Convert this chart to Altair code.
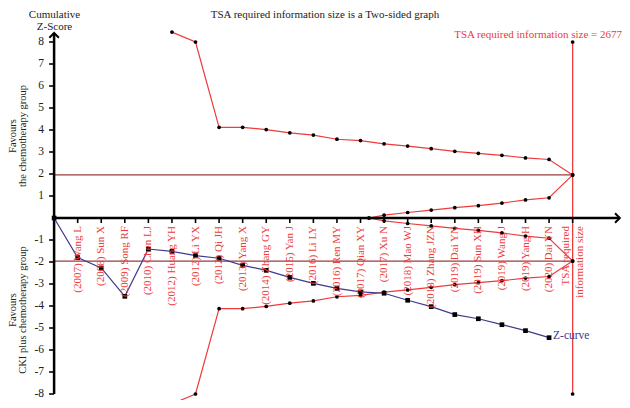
import altair as alt
import pandas as pd

# ---------------- data ----------------
studies = ["(2007) Wang L", "(2008) Sun X", "(2009) Song RF", "(2010) Chen LJ",
           "(2012) Huang YH", "(2012) Li YX", "(2012) Qi JH", "(2013) Yang X",
           "(2014) Zhang GY", "(2015) Yan J", "(2016) Li LY", "(2016) Ren MY",
           "(2017) Qian XY", "(2017) Xu N", "(2018) Mao WJ", "(2018) Zhang JZN",
           "(2019) Dai YN", "(2019) Sun XH", "(2019) Wang J", "(2019) Yang H",
           "(2020) Dai YN"]
study_index = list(range(1, 22))

z_index = list(range(0, 22))
z_values = [0, -1.80, -2.27, -3.56, -1.41, -1.52, -1.71, -1.83, -2.15, -2.38,
            -2.70, -2.97, -3.20, -3.36, -3.42, -3.74, -4.03, -4.39, -4.58,
            -4.85, -5.12, -5.44]

outer_index = list(range(5, 23))
outer_upper = [8.45, 8.0, 4.12, 4.12, 4.02, 3.87, 3.77, 3.58, 3.52, 3.37,
               3.27, 3.15, 3.03, 2.94, 2.85, 2.73, 2.66, 1.96]
outer_lower = [-8.45, -8.0, -4.12, -4.12, -4.02, -3.87, -3.77, -3.58, -3.52,
               -3.37, -3.27, -3.15, -3.03, -2.94, -2.85, -2.73, -2.66, -1.96]

inner_index = [13.36, 14, 15, 16, 17, 18, 19, 20, 21, 22]
inner_upper = [0, 0.13, 0.25, 0.36, 0.47, 0.56, 0.68, 0.82, 0.92, 1.96]
inner_lower = [0, -0.13, -0.25, -0.36, -0.47, -0.56, -0.68, -0.82, -0.92, -1.96]

ris_index = 22
ris_span = [-8, 8]
conventional = [1.96, -1.96]
y_ticks = [-8, -7, -6, -5, -4, -3, -2, -1, 1, 2, 3, 4, 5, 6, 7, 8]
x_axis_end = 24
y_axis_top = 8.41

title_text = "TSA required information size is a Two-sided graph"
ris_text = "TSA required information size = 2677"
ris_axis_lines = ["TSA required", "information size"]
y_title_lines = ["Cumulative", "Z-Score"]
fav_top_lines = ["Favours", "the chemotherapy group"]
fav_bottom_lines = ["Favours", "CKI plus chemotherapy group"]

# ---------------- styling ----------------
RED = "#ee3b3b"
NAVY = "#3b3b8c"
BROWN = "#9a3d3d"
INK = "#222222"
FONT = "Liberation Serif"

W, H = 614, 392
XMIN, XMAX = -1.9559, 24.094
YMAX = 210 / 22.0
YMIN = YMAX - H / 22.0


def X(f="x"):
    return alt.X(f"{f}:Q", scale=alt.Scale(domain=[XMIN, XMAX], nice=False, zero=False), axis=None)


def Y(f="y"):
    return alt.Y(f"{f}:Q", scale=alt.Scale(domain=[YMIN, YMAX], nice=False, zero=False), axis=None)


def one_text(txt, px, py, **kw):
    base = dict(font=FONT, fontSize=11, color=INK, align="center", baseline="middle")
    base.update(kw)
    return alt.Chart(pd.DataFrame({"t": [txt]})).mark_text(**base).encode(
        x=alt.value(px), y=alt.value(py), text="t:N")


# ---------------- tables ----------------
z_df = pd.DataFrame({"x": z_index, "y": z_values})

rows = []
for name, xs, ys in [("outer_upper", outer_index, outer_upper),
                     ("outer_lower", outer_index, outer_lower),
                     ("inner_upper", inner_index, inner_upper),
                     ("inner_lower", inner_index, inner_lower)]:
    for xv, yv in zip(xs, ys):
        rows.append({"series": name, "x": xv, "y": yv})
bound_df = pd.DataFrame(rows)

ris_df = pd.DataFrame({"x": [ris_index], "y": [ris_span[0]], "y2": [ris_span[1]]})
ris_pts = pd.DataFrame({"x": [ris_index, ris_index], "y": ris_span})
conv_df = pd.DataFrame({"x": [0, 0], "x2": [ris_index, ris_index], "y": conventional})

xaxis_df = pd.DataFrame({"x": [0], "x2": [x_axis_end], "y": [0]})
yaxis_df = pd.DataFrame({"x": [0], "y": [y_ticks[0]], "y2": [y_axis_top]})
xtick_df = pd.DataFrame({"x": study_index + [ris_index], "y": [0] * 22})
ytick_df = pd.DataFrame({"x": [0] * len(y_ticks), "y": y_ticks, "label": [str(v) for v in y_ticks]})
label_df = pd.DataFrame({"x": study_index, "y": [0] * 21, "label": studies})

# ---------------- layers ----------------
conv = alt.Chart(conv_df).mark_rule(color=BROWN, strokeWidth=1.3).encode(x=X(), x2="x2:Q", y=Y())

bound_line = alt.Chart(bound_df).mark_line(color=RED, strokeWidth=1.2).encode(
    x=X(), y=Y(), detail="series:N")
bound_pts = alt.Chart(bound_df).mark_circle(color="black", size=14, opacity=1).encode(x=X(), y=Y())

ris_rule = alt.Chart(ris_df).mark_rule(color=RED, strokeWidth=1.3).encode(x=X(), y=Y(), y2="y2:Q")
ris_dots = alt.Chart(ris_pts).mark_circle(color="black", size=14, opacity=1).encode(x=X(), y=Y())

xaxis = alt.Chart(xaxis_df).mark_rule(color="black", strokeWidth=2.5).encode(x=X(), x2="x2:Q", y=Y())
yaxis = alt.Chart(yaxis_df).mark_rule(color="black", strokeWidth=2.5).encode(x=X(), y=Y(), y2="y2:Q")
xarrow = alt.Chart(pd.DataFrame({"x": [x_axis_end], "y": [0]})).mark_point(
    shape="M-1,-1L0,0L-1,1", filled=False, size=90, strokeWidth=2, color="black", opacity=1
).encode(x=X(), y=Y())
yarrow = alt.Chart(pd.DataFrame({"x": [0], "y": [y_axis_top]})).mark_point(
    shape="M-1,1L0,0L1,1", filled=False, size=90, strokeWidth=2, color="black", opacity=1
).encode(x=X(), y=Y())

xticks = alt.Chart(xtick_df).mark_tick(orient="vertical", size=5, thickness=1.6, color="black",
                                       yOffset=2.5, opacity=1).encode(x=X(), y=Y())
yticks = alt.Chart(ytick_df).mark_tick(orient="horizontal", size=5, thickness=1.6, color="black",
                                       xOffset=-2.5, opacity=1).encode(x=X(), y=Y())
ylabels = alt.Chart(ytick_df).mark_text(align="right", baseline="middle", dx=-10, font=FONT,
                                        fontSize=11.5, color=INK).encode(x=X(), y=Y(), text="label:N")

xlabels = alt.Chart(label_df).mark_text(angle=270, align="right", baseline="middle", dx=-8,
                                        font=FONT, fontSize=11, color=RED).encode(
    x=X(), y=Y(), text="label:N")
ris_x1 = alt.Chart(pd.DataFrame({"x": [ris_index], "y": [0], "label": [ris_axis_lines[0]]})).mark_text(
    angle=270, align="right", baseline="middle", dx=-8, dy=-7, font=FONT, fontSize=11, color=RED
).encode(x=X(), y=Y(), text="label:N")
ris_x2 = alt.Chart(pd.DataFrame({"x": [ris_index], "y": [0], "label": [ris_axis_lines[1]]})).mark_text(
    angle=270, align="right", baseline="middle", dx=-8, dy=7, font=FONT, fontSize=11, color=RED
).encode(x=X(), y=Y(), text="label:N")

z_line = alt.Chart(z_df).mark_line(color=NAVY, strokeWidth=1.2).encode(x=X(), y=Y())
z_pts = alt.Chart(z_df).mark_square(color="black", size=22, opacity=1).encode(x=X(), y=Y())
z_label = alt.Chart(pd.DataFrame({"x": [z_index[-1]], "y": [z_values[-1]], "label": ["Z-curve"]})).mark_text(
    align="left", baseline="middle", dx=4, dy=-2, font=FONT, fontSize=11.5, color=NAVY).encode(
    x=X(), y=Y(), text="label:N")

title = one_text(title_text, 317, 1, baseline="top")
ytitle1 = one_text(y_title_lines[0], 46.5, 7)
ytitle2 = one_text(y_title_lines[1], 46.5, 19)
ris_title = one_text(ris_text, 614, 27, align="right", color=RED)
fav1a = one_text(fav_top_lines[0], 4.5, 128, angle=270, fontSize=10.5)
fav1b = one_text(fav_top_lines[1], 15, 128, angle=270, fontSize=10.5)
fav2a = one_text(fav_bottom_lines[0], 4.5, 302, angle=270, fontSize=10.5)
fav2b = one_text(fav_bottom_lines[1], 15, 302, angle=270, fontSize=10.5)

chart = alt.layer(
    conv, bound_line, ris_rule, xaxis, yaxis, xarrow, yarrow, xticks, yticks,
    z_line, bound_pts, ris_dots, z_pts, ylabels, xlabels, ris_x1, ris_x2, z_label,
    title, ytitle1, ytitle2, ris_title, fav1a, fav1b, fav2a, fav2b
).properties(
    width=W, height=H, autosize=alt.AutoSizeParams(type="none"), padding=0, background="white"
).configure_view(stroke=None)

chart.save("out.html", embed_options={"renderer": "svg", "actions": False})
